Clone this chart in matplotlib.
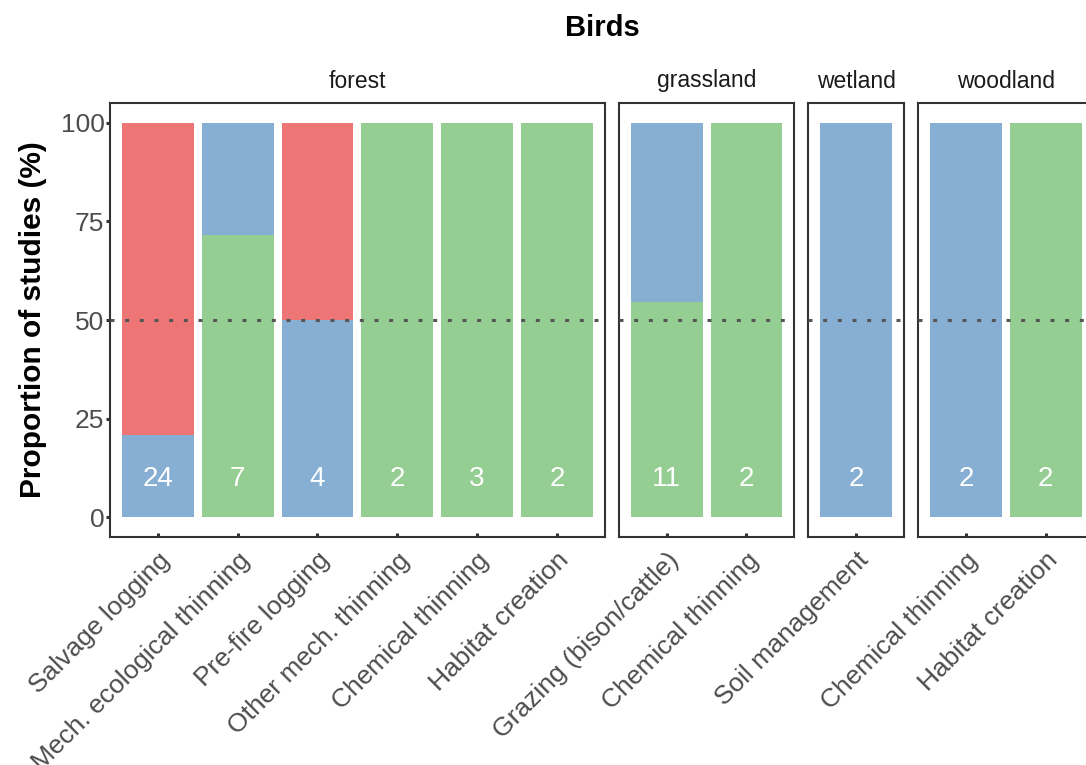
import numpy as np
import matplotlib
matplotlib.use("Agg")
import matplotlib.pyplot as plt

plt.rcParams["font.family"] = ["Liberation Sans", "DejaVu Sans"]

# Study counts per habitat / intervention, split by direction of the effect
HABITATS = ["forest", "grassland", "wetland", "woodland"]
habitat = ["forest"] * 6 + ["grassland"] * 2 + ["wetland"] + ["woodland"] * 2
intervention = [
    "Salvage logging", "Mech. ecological thinning", "Pre-fire logging",
    "Other mech. thinning", "Chemical thinning", "Habitat creation",
    "Grazing (bison/cattle)", "Chemical thinning",
    "Soil management",
    "Chemical thinning", "Habitat creation",
]
n_positive = [0, 5, 0, 2, 3, 2, 6, 2, 0, 0, 2]
n_neutral = [5, 2, 2, 0, 0, 0, 5, 0, 2, 2, 0]
n_negative = [19, 0, 2, 0, 0, 0, 0, 0, 0, 0, 0]

GREEN = "#94CE92"
BLUE = "#87AFD4"
RED = "#ED7576"
FRAME = "#333333"
GREY_TXT = "#4D4D4D"

# layout in pixels
FIG_W, FIG_H = 1086, 765
UNIT = 79.8      # px per category slot
GAP = 14         # px between facet panels
LEFT, TOP, BOTTOM = 110, 103, 537

fig = plt.figure(figsize=(FIG_W / 100, FIG_H / 100), dpi=100)

pos_arr = np.array(n_positive, dtype=float)
neu_arr = np.array(n_neutral, dtype=float)
neg_arr = np.array(n_negative, dtype=float)
total = pos_arr + neu_arr + neg_arr

x0 = LEFT
for i, hab in enumerate(HABITATS):
    idx = [k for k, h in enumerate(habitat) if h == hab]
    m = len(idx)
    w = (m + 0.2) * UNIT
    ax = fig.add_axes([x0 / FIG_W, 1 - BOTTOM / FIG_H,
                       w / FIG_W, (BOTTOM - TOP) / FIG_H])
    x0 += w + GAP

    xs = np.arange(1, m + 1)
    base = np.zeros(m)
    for counts, col in zip([pos_arr, neu_arr, neg_arr], [GREEN, BLUE, RED]):
        vals = 100 * counts[idx] / total[idx]
        ax.bar(xs, vals, width=0.9, bottom=base, color=col, linewidth=0, zorder=2)
        base += vals

    ax.axhline(50, color="#555555", lw=2.2, ls=(0, (1.3, 3.5)), zorder=3)

    # number of studies behind each bar
    for x, n in zip(xs, total[idx]):
        ax.text(x, 9.6, f"{int(n)}", color="white", fontsize=20,
                ha="center", va="center", zorder=4)

    ax.set_xlim(0.4, m + 0.6)
    ax.set_ylim(-5, 105)
    for sp in ax.spines.values():
        sp.set_color(FRAME)
        sp.set_linewidth(1.5)

    ax.set_xticks(xs)
    ax.set_xticklabels([intervention[k] for k in idx], rotation=45,
                       ha="right", va="top", rotation_mode="anchor",
                       fontsize=19, color=GREY_TXT)
    ax.tick_params(axis="x", direction="in", length=3, width=2.2,
                   color=FRAME, pad=8)

    if i == 0:
        ax.set_yticks([0, 25, 50, 75, 100])
        ax.tick_params(axis="y", direction="out", length=3, width=2.2,
                       color=FRAME, labelsize=19, labelcolor=GREY_TXT, pad=1)
        ax.set_ylabel("Proportion of studies (%)", fontsize=21.5,
                      fontweight="bold", labelpad=10)
    else:
        ax.set_yticks([])

    ax.text(0.5, 1 + 22 / (BOTTOM - TOP), hab, transform=ax.transAxes,
            ha="center", va="center", fontsize=16.5, color="#1A1A1A")

fig.text(602 / FIG_W, 1 - 28 / FIG_H, "Birds", ha="center", va="center",
         fontsize=21, fontweight="bold")

fig.savefig("out.png", dpi=100)
